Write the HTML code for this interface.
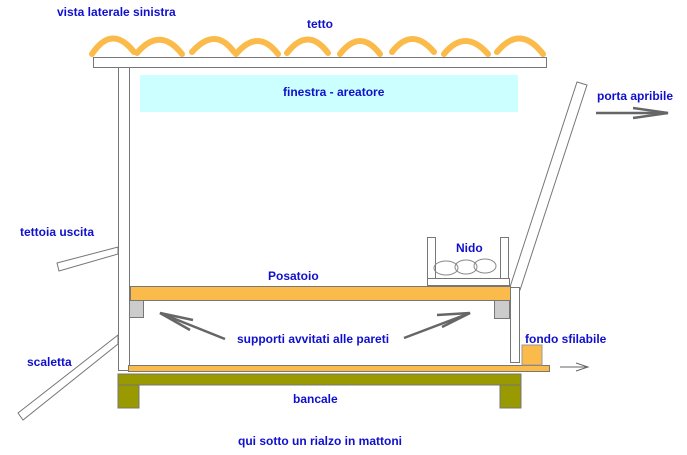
<!DOCTYPE html>
<html><head><meta charset="utf-8"><style>
body{margin:0;background:#fff;}
svg text{font-family:"Liberation Sans",Arial,sans-serif;font-weight:bold;font-size:12px;fill:#1010cc;}
</style></head><body>
<svg width="687" height="450" viewBox="0 0 687 450" xmlns="http://www.w3.org/2000/svg">
<g fill="none" stroke="#fbbb4a" stroke-width="6" stroke-linecap="round">
<path d="M92,54 Q112,24 134,52"/><path d="M137,53 Q160,26 182,54"/>
<path d="M192,52 Q215,26 234,52"/><path d="M236,54 Q258,28 278,54"/>
<path d="M287,53 Q308,26 328,53"/><path d="M340,54 Q360,28 380,54"/>
<path d="M392,52 Q412,26 434,52"/><path d="M444,54 Q465,28 488,54"/>
<path d="M497,52 Q520,24 543,54"/>
</g>
<rect x="93.5" y="57.5" width="453" height="10" fill="#fff" stroke="#777"/>
<rect x="118.5" y="67.5" width="11" height="303" fill="#fff" stroke="#777"/>
<rect x="140" y="75" width="378" height="37" fill="#ccffff"/>
<polygon points="577,82 587,85 520,290 510,287" fill="#fff" stroke="#777"/>
<rect x="510.5" y="287.5" width="9" height="75" fill="#fff" stroke="#777"/>
<rect x="427.5" y="237.5" width="8" height="43" fill="#fff" stroke="#777"/>
<rect x="500.5" y="237.5" width="8" height="43" fill="#fff" stroke="#777"/>
<rect x="427.5" y="278.5" width="82" height="7" fill="#fff" stroke="#777"/>
<g fill="none" stroke="#888"><ellipse cx="446" cy="268" rx="12" ry="7"/><ellipse cx="466" cy="267" rx="11" ry="7"/><ellipse cx="485" cy="266" rx="11" ry="7"/></g>
<rect x="130.5" y="286.5" width="380" height="14" fill="#fbbb4a" stroke="#777"/>
<rect x="129.5" y="300.5" width="14" height="17" fill="#ccc" stroke="#777"/>
<rect x="494.5" y="300.5" width="15" height="18" fill="#ccc" stroke="#777"/>
<rect x="128.5" y="365.5" width="421" height="6" fill="#fbbb4a" stroke="#777"/>
<rect x="522" y="345" width="20" height="20" fill="#fbbb4a" stroke="#999"/>
<rect x="118" y="374" width="403" height="11" fill="#999900" stroke="#777"/>
<rect x="118" y="385" width="21" height="23" fill="#999900" stroke="#777"/>
<rect x="500" y="385" width="21" height="23" fill="#999900" stroke="#777"/>
<polygon points="57,263 118,247 118,254 59,271" fill="#fff" stroke="#777"/>
<polygon points="18,413 118,335 118,344 23,420" fill="#fff" stroke="#777"/>
<g stroke="#666" stroke-width="2.5" fill="none">
<line x1="225" y1="339" x2="160" y2="313"/><polyline points="193,320 160,313 190,330"/>
<line x1="404" y1="338" x2="470" y2="313"/><polyline points="437,315 470,313 442,327"/>
<line x1="596" y1="113" x2="668" y2="113"/><polyline points="633,108 668,113 633,118"/>
</g>
<g stroke="#666" stroke-width="1" fill="none"><line x1="560" y1="367" x2="588" y2="367"/><polyline points="576,363 588,367 576,371"/></g>
<text x="57" y="16">vista laterale sinistra</text>
<text x="307" y="28">tetto</text>
<text x="283" y="96">finestra - areatore</text>
<text x="597" y="100">porta apribile</text>
<text x="20" y="236">tettoia uscita</text>
<text x="456" y="252">Nido</text>
<text x="268" y="280">Posatoio</text>
<text x="237" y="343">supporti avvitati alle pareti</text>
<text x="525" y="343">fondo sfilabile</text>
<text x="27" y="366">scaletta</text>
<text x="293" y="403">bancale</text>
<text x="238" y="445">qui sotto un rialzo in mattoni</text>
</svg>
</body></html>
